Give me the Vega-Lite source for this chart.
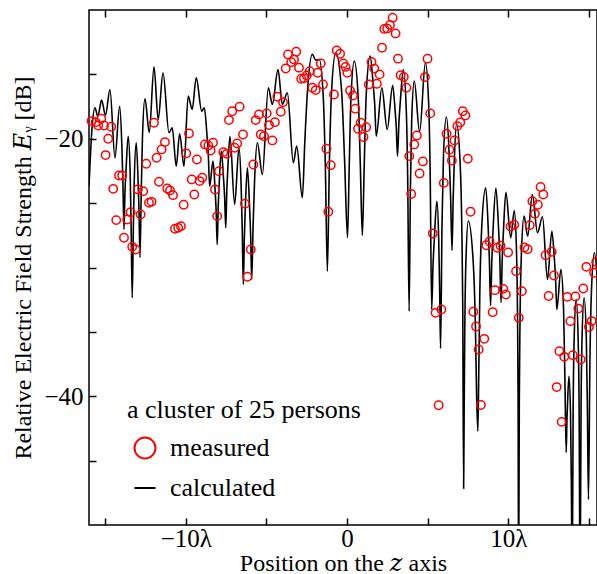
{
  "$schema": "https://vega.github.io/schema/vega-lite/v6.json",
  "width": 508,
  "height": 515,
  "autosize": "none",
  "padding": {"left": 89, "top": 10, "right": 0, "bottom": 49},
  "background": "white",
  "config": {
    "view": {"stroke": "black", "strokeWidth": 1.5},
    "font": "Liberation Serif",
    "axis": {"labelFont": "Liberation Serif", "titleFont": "Liberation Serif, DejaVu Serif", "labelColor": "black", "titleColor": "black", "tickColor": "black", "titleFontWeight": "normal", "grid": false, "domain": false}
  },
  "datasets": {
    "calculated": [
      {"x": -16.0, "y": -23.68}, {"x": -15.82, "y": -19.3}, {"x": -15.63, "y": -17.59}, {"x": -15.45, "y": -18.27}, {"x": -15.22, "y": -16.99}, {"x": -14.98, "y": -18.19}, {"x": -14.7, "y": -16.17}, {"x": -14.39, "y": -21.48}, {"x": -14.1, "y": -17.47},
      {"x": -13.965, "y": -20.47}, {"x": -13.9, "y": -23.22}, {"x": -13.83, "y": -27.05}, {"x": -13.77, "y": -24.15}, {"x": -13.7, "y": -22.34}, {"x": -13.57, "y": -19.8},
      {"x": -13.445, "y": -22.8}, {"x": -13.3825, "y": -27.33}, {"x": -13.32, "y": -32.35}, {"x": -13.2575, "y": -27.53}, {"x": -13.195, "y": -23.31}, {"x": -13.07, "y": -20.31},
      {"x": -12.955, "y": -23.31}, {"x": -12.8975, "y": -25.66}, {"x": -12.84, "y": -29.22}, {"x": -12.7625, "y": -24.29}, {"x": -12.685, "y": -19.89}, {"x": -12.53, "y": -16.89},
      {"x": -12.26, "y": -19.51}, {"x": -11.97, "y": -14.41}, {"x": -11.71, "y": -18.5}, {"x": -11.41, "y": -14.87}, {"x": -11.04, "y": -19.53}, {"x": -10.84, "y": -19.15}, {"x": -10.59, "y": -22.13}, {"x": -10.38, "y": -19.61}, {"x": -10.11, "y": -22.13}, {"x": -9.85, "y": -16.69}, {"x": -9.6, "y": -17.72}, {"x": -9.35, "y": -15.26}, {"x": -9.01, "y": -17.86}, {"x": -8.85, "y": -17.59},
      {"x": -8.685, "y": -19.72}, {"x": -8.6025, "y": -21.24}, {"x": -8.52, "y": -23.68}, {"x": -8.31, "y": -21.74},
      {"x": -8.18, "y": -24.0}, {"x": -8.115, "y": -25.62}, {"x": -8.05, "y": -28.21}, {"x": -7.9875, "y": -25.31}, {"x": -7.925, "y": -23.5}, {"x": -7.8, "y": -20.96},
      {"x": -7.66, "y": -23.05}, {"x": -7.59, "y": -24.54}, {"x": -7.52, "y": -26.92}, {"x": -7.455, "y": -24.07}, {"x": -7.39, "y": -22.29}, {"x": -7.26, "y": -19.8},
      {"x": -6.97, "y": -25.1}, {"x": -6.7, "y": -20.7},
      {"x": -6.565, "y": -23.7}, {"x": -6.4975, "y": -27.07}, {"x": -6.43, "y": -31.32}, {"x": -6.3675, "y": -27.69}, {"x": -6.305, "y": -25.25}, {"x": -6.18, "y": -22.25},
      {"x": -6.045, "y": -25.25}, {"x": -5.9775, "y": -27.46}, {"x": -5.91, "y": -30.93}, {"x": -5.8225, "y": -26.68}, {"x": -5.735, "y": -23.31}, {"x": -5.56, "y": -20.31},
      {"x": -5.25, "y": -22.77}, {"x": -4.88, "y": -16.04}, {"x": -4.63, "y": -17.33}, {"x": -4.28, "y": -14.62}, {"x": -4.01, "y": -17.33}, {"x": -3.7, "y": -16.43}, {"x": -3.33, "y": -21.86}, {"x": -3.12, "y": -20.57},
      {"x": -2.77, "y": -24.58}, {"x": -2.615, "y": -20.13}, {"x": -2.46, "y": -16.45}, {"x": -2.15, "y": -13.45}, {"x": -1.94, "y": -13.89}, {"x": -1.72, "y": -13.84},
      {"x": -1.47, "y": -16.84}, {"x": -1.345, "y": -22.14}, {"x": -1.22, "y": -30.29}, {"x": -1.09, "y": -21.62}, {"x": -0.96, "y": -16.32}, {"x": -0.7, "y": -13.32},
      {"x": -0.335, "y": -16.32}, {"x": -0.1525, "y": -21.62}, {"x": 0.03, "y": -27.69}, {"x": 0.135, "y": -22.2}, {"x": 0.24, "y": -16.97}, {"x": 0.45, "y": -13.97},
      {"x": 0.7, "y": -16.97}, {"x": 0.825, "y": -22.09}, {"x": 0.95, "y": -27.51}, {"x": 1.07, "y": -21.88}, {"x": 1.19, "y": -16.58}, {"x": 1.43, "y": -13.58},
      {"x": 1.62, "y": -15.76}, {"x": 1.715, "y": -17.31}, {"x": 1.81, "y": -19.8}, {"x": 2.16, "y": -16.04}, {"x": 2.49, "y": -19.28}, {"x": 2.83, "y": -15.86},
      {"x": 2.98, "y": -17.78}, {"x": 3.055, "y": -19.15}, {"x": 3.13, "y": -21.35}, {"x": 3.22, "y": -18.67}, {"x": 3.31, "y": -17.0}, {"x": 3.49, "y": -14.65},
      {"x": 3.67, "y": -17.65}, {"x": 3.76, "y": -22.95}, {"x": 3.85, "y": -33.4}, {"x": 3.93, "y": -23.82}, {"x": 4.01, "y": -18.52}, {"x": 4.17, "y": -15.52},
      {"x": 4.5, "y": -19.47}, {"x": 4.86, "y": -14.09},
      {"x": 5.055, "y": -17.09}, {"x": 5.1525, "y": -22.39}, {"x": 5.25, "y": -33.26}, {"x": 5.33, "y": -29.9}, {"x": 5.41, "y": -27.85}, {"x": 5.57, "y": -24.85},
      {"x": 5.685, "y": -27.85}, {"x": 5.7425, "y": -31.71}, {"x": 5.8, "y": -36.29}, {"x": 5.89, "y": -26.61}, {"x": 5.98, "y": -21.31}, {"x": 6.16, "y": -18.31},
      {"x": 6.335, "y": -21.31}, {"x": 6.4225, "y": -24.53}, {"x": 6.51, "y": -28.68}, {"x": 6.58, "y": -24.73}, {"x": 6.65, "y": -21.81}, {"x": 6.79, "y": -18.81},
      {"x": 7.01, "y": -21.81}, {"x": 7.12, "y": -27.11}, {"x": 7.175, "y": -33.0}, {"x": 7.23, "y": -47.17}, {"x": 7.266, "y": -40.6}, {"x": 7.3025, "y": -34.69}, {"x": 7.375, "y": -29.39}, {"x": 7.52, "y": -26.39},
      {"x": 7.815, "y": -29.39}, {"x": 7.9625, "y": -34.69}, {"x": 8.036, "y": -40.0}, {"x": 8.11, "y": -42.72}, {"x": 8.171, "y": -38.0}, {"x": 8.2325, "y": -32.11}, {"x": 8.355, "y": -26.81}, {"x": 8.6, "y": -23.81},
      {"x": 8.75, "y": -26.81}, {"x": 8.825, "y": -29.29}, {"x": 8.9, "y": -32.95}, {"x": 8.9825, "y": -29.3}, {"x": 9.065, "y": -26.82}, {"x": 9.23, "y": -23.82},
      {"x": 9.39, "y": -26.82}, {"x": 9.47, "y": -29.16}, {"x": 9.55, "y": -32.72}, {"x": 9.625, "y": -29.29}, {"x": 9.7, "y": -27.15}, {"x": 9.85, "y": -24.15},
      {"x": 10.15, "y": -27.69}, {"x": 10.37, "y": -25.57},
      {"x": 10.505, "y": -28.57}, {"x": 10.5725, "y": -33.87}, {"x": 10.606, "y": -39.8}, {"x": 10.64, "y": -55}, {"x": 10.6825, "y": -40.2}, {"x": 10.725, "y": -34.31}, {"x": 10.81, "y": -29.01}, {"x": 10.98, "y": -26.01},
      {"x": 11.2, "y": -27.57}, {"x": 11.49, "y": -24.33}, {"x": 11.81, "y": -27.3}, {"x": 12.12, "y": -26.06}, {"x": 12.43, "y": -30.93}, {"x": 12.7, "y": -27.18},
      {"x": 12.855, "y": -29.31}, {"x": 12.93, "y": -30.83}, {"x": 13.01, "y": -33.26}, {"x": 13.26, "y": -30.16},
      {"x": 13.425, "y": -33.16}, {"x": 13.5075, "y": -38.46}, {"x": 13.59, "y": -44.37}, {"x": 13.6325, "y": -42.0}, {"x": 13.675, "y": -40.52}, {"x": 13.76, "y": -38.45},
      {"x": 13.86, "y": -41.45}, {"x": 13.91, "y": -46.75}, {"x": 13.96, "y": -55}, {"x": 14.0225, "y": -40.79}, {"x": 14.085, "y": -35.49}, {"x": 14.21, "y": -32.49},
      {"x": 14.33, "y": -35.49}, {"x": 14.39, "y": -40.79}, {"x": 14.45, "y": -55}, {"x": 14.5125, "y": -40.65}, {"x": 14.575, "y": -35.35}, {"x": 14.7, "y": -32.35},
      {"x": 14.835, "y": -35.35}, {"x": 14.9025, "y": -40.65}, {"x": 14.97, "y": -48.03}, {"x": 15.0625, "y": -37.16}, {"x": 15.155, "y": -31.86}, {"x": 15.34, "y": -28.86}, {"x": 15.54, "y": -31.3}
    ],
    "measured": [
      {"x": -15.84, "y": -18.63, "series": "measured"}, {"x": -15.59, "y": -18.71, "series": "measured"}, {"x": -15.43, "y": -18.97, "series": "measured"}, {"x": -15.24, "y": -18.45, "series": "measured"}, {"x": -15.07, "y": -18.97, "series": "measured"},
      {"x": -14.97, "y": -21.27, "series": "measured"}, {"x": -14.81, "y": -20.0, "series": "measured"}, {"x": -14.62, "y": -19.07, "series": "measured"}, {"x": -14.5, "y": -23.89, "series": "measured"}, {"x": -14.31, "y": -26.32, "series": "measured"},
      {"x": -14.14, "y": -22.85, "series": "measured"}, {"x": -13.94, "y": -22.85, "series": "measured"}, {"x": -13.83, "y": -27.69, "series": "measured"}, {"x": -13.63, "y": -26.27, "series": "measured"}, {"x": -13.42, "y": -25.7, "series": "measured"},
      {"x": -13.32, "y": -28.39, "series": "measured"}, {"x": -13.11, "y": -28.6, "series": "measured"}, {"x": -12.97, "y": -23.94, "series": "measured"}, {"x": -12.8, "y": -25.88, "series": "measured"}, {"x": -12.64, "y": -24.07, "series": "measured"},
      {"x": -12.45, "y": -21.94, "series": "measured"}, {"x": -12.28, "y": -24.97, "series": "measured"}, {"x": -12.12, "y": -24.9, "series": "measured"}, {"x": -11.97, "y": -18.76, "series": "measured"}, {"x": -11.81, "y": -21.48, "series": "measured"},
      {"x": -11.66, "y": -23.34, "series": "measured"}, {"x": -11.5, "y": -20.83, "series": "measured"}, {"x": -11.29, "y": -20.26, "series": "measured"}, {"x": -11.15, "y": -23.86, "series": "measured"}, {"x": -10.98, "y": -24.02, "series": "measured"},
      {"x": -10.79, "y": -24.38, "series": "measured"}, {"x": -10.67, "y": -26.99, "series": "measured"}, {"x": -10.47, "y": -26.92, "series": "measured"}, {"x": -10.3, "y": -26.79, "series": "measured"}, {"x": -10.13, "y": -25.13, "series": "measured"},
      {"x": -9.97, "y": -21.14, "series": "measured"}, {"x": -9.8, "y": -19.59, "series": "measured"}, {"x": -9.63, "y": -23.16, "series": "measured"}, {"x": -9.47, "y": -24.33, "series": "measured"}, {"x": -9.31, "y": -21.61, "series": "measured"},
      {"x": -9.14, "y": -23.29, "series": "measured"}, {"x": -8.98, "y": -23.03, "series": "measured"}, {"x": -8.81, "y": -20.44, "series": "measured"}, {"x": -8.6, "y": -20.52, "series": "measured"}, {"x": -8.46, "y": -20.91, "series": "measured"},
      {"x": -8.31, "y": -20.31, "series": "measured"}, {"x": -8.19, "y": -23.94, "series": "measured"}, {"x": -8.05, "y": -26.01, "series": "measured"}, {"x": -7.94, "y": -22.52, "series": "measured"}, {"x": -7.67, "y": -21.04, "series": "measured"},
      {"x": -7.46, "y": -21.17, "series": "measured"}, {"x": -7.32, "y": -18.55, "series": "measured"}, {"x": -7.12, "y": -17.86, "series": "measured"}, {"x": -6.97, "y": -20.7, "series": "measured"}, {"x": -6.81, "y": -20.37, "series": "measured"},
      {"x": -6.66, "y": -17.51, "series": "measured"}, {"x": -6.45, "y": -19.67, "series": "measured"}, {"x": -6.33, "y": -25.05, "series": "measured"}, {"x": -6.18, "y": -30.72, "series": "measured"}, {"x": -5.97, "y": -28.6, "series": "measured"},
      {"x": -5.81, "y": -22.0, "series": "measured"}, {"x": -5.66, "y": -18.55, "series": "measured"}, {"x": -5.46, "y": -18.11, "series": "measured"}, {"x": -5.35, "y": -19.67, "series": "measured"}, {"x": -5.15, "y": -19.8, "series": "measured"},
      {"x": -4.98, "y": -18.03, "series": "measured"}, {"x": -4.84, "y": -18.94, "series": "measured"}, {"x": -4.63, "y": -20.13, "series": "measured"}, {"x": -4.47, "y": -18.71, "series": "measured"}, {"x": -4.32, "y": -16.74, "series": "measured"},
      {"x": -4.11, "y": -17.9, "series": "measured"}, {"x": -3.97, "y": -17.16, "series": "measured"}, {"x": -3.8, "y": -14.54, "series": "measured"}, {"x": -3.66, "y": -13.45, "series": "measured"}, {"x": -3.46, "y": -14.05, "series": "measured"},
      {"x": -3.29, "y": -13.84, "series": "measured"}, {"x": -3.15, "y": -13.24, "series": "measured"}, {"x": -2.98, "y": -14.48, "series": "measured"}, {"x": -2.84, "y": -15.34, "series": "measured"}, {"x": -2.67, "y": -15.31, "series": "measured"},
      {"x": -2.5, "y": -15.08, "series": "measured"}, {"x": -2.31, "y": -14.75, "series": "measured"}, {"x": -2.15, "y": -16.04, "series": "measured"}, {"x": -1.94, "y": -16.22, "series": "measured"}, {"x": -1.82, "y": -14.87, "series": "measured"},
      {"x": -1.63, "y": -14.15, "series": "measured"}, {"x": -1.49, "y": -15.78, "series": "measured"}, {"x": -1.28, "y": -20.78, "series": "measured"}, {"x": -1.16, "y": -25.67, "series": "measured"}, {"x": -1.01, "y": -22.05, "series": "measured"},
      {"x": -0.81, "y": -16.56, "series": "measured"}, {"x": -0.64, "y": -13.14, "series": "measured"}, {"x": -0.43, "y": -13.4, "series": "measured"}, {"x": -0.23, "y": -14.15, "series": "measured"}, {"x": -0.09, "y": -14.42, "series": "measured"},
      {"x": 0.02, "y": -14.87, "series": "measured"}, {"x": 0.19, "y": -16.25, "series": "measured"}, {"x": 0.37, "y": -16.64, "series": "measured"}, {"x": 0.51, "y": -17.67, "series": "measured"}, {"x": 0.68, "y": -19.22, "series": "measured"},
      {"x": 0.85, "y": -18.76, "series": "measured"}, {"x": 1.02, "y": -19.86, "series": "measured"}, {"x": 1.19, "y": -19.1, "series": "measured"}, {"x": 1.35, "y": -15.78, "series": "measured"}, {"x": 1.52, "y": -14.03, "series": "measured"},
      {"x": 1.69, "y": -14.55, "series": "measured"}, {"x": 1.85, "y": -15.73, "series": "measured"}, {"x": 2.02, "y": -15.0, "series": "measured"}, {"x": 2.17, "y": -12.93, "series": "measured"}, {"x": 2.31, "y": -11.47, "series": "measured"},
      {"x": 2.49, "y": -11.43, "series": "measured"}, {"x": 2.66, "y": -11.16, "series": "measured"}, {"x": 2.83, "y": -10.6, "series": "measured"}, {"x": 3.01, "y": -11.82, "series": "measured"}, {"x": 3.16, "y": -13.78, "series": "measured"},
      {"x": 3.32, "y": -15.06, "series": "measured"}, {"x": 3.52, "y": -15.2, "series": "measured"}, {"x": 3.68, "y": -16.04, "series": "measured"}, {"x": 3.86, "y": -21.35, "series": "measured"}, {"x": 3.98, "y": -24.29, "series": "measured"},
      {"x": 4.17, "y": -20.44, "series": "measured"}, {"x": 4.33, "y": -19.74, "series": "measured"}, {"x": 4.5, "y": -22.7, "series": "measured"}, {"x": 4.7, "y": -21.76, "series": "measured"}, {"x": 4.83, "y": -15.21, "series": "measured"},
      {"x": 4.99, "y": -13.78, "series": "measured"}, {"x": 5.16, "y": -18.03, "series": "measured"}, {"x": 5.32, "y": -27.36, "series": "measured"}, {"x": 5.49, "y": -33.52, "series": "measured"}, {"x": 5.68, "y": -40.7, "series": "measured"},
      {"x": 5.85, "y": -33.26, "series": "measured"}, {"x": 6.0, "y": -23.43, "series": "measured"}, {"x": 6.17, "y": -19.61, "series": "measured"}, {"x": 6.35, "y": -20.85, "series": "measured"}, {"x": 6.5, "y": -21.69, "series": "measured"},
      {"x": 6.66, "y": -20.13, "series": "measured"}, {"x": 6.84, "y": -19.02, "series": "measured"}, {"x": 7.02, "y": -18.73, "series": "measured"}, {"x": 7.18, "y": -17.86, "series": "measured"}, {"x": 7.34, "y": -18.19, "series": "measured"},
      {"x": 7.49, "y": -21.55, "series": "measured"}, {"x": 7.66, "y": -25.67, "series": "measured"}, {"x": 7.83, "y": -33.44, "series": "measured"}, {"x": 8.0, "y": -34.58, "series": "measured"}, {"x": 8.16, "y": -36.37, "series": "measured"},
      {"x": 8.3, "y": -40.68, "series": "measured"}, {"x": 8.51, "y": -35.54, "series": "measured"}, {"x": 8.64, "y": -28.27, "series": "measured"}, {"x": 8.84, "y": -27.98, "series": "measured"}, {"x": 9.03, "y": -33.47, "series": "measured"},
      {"x": 9.17, "y": -31.76, "series": "measured"}, {"x": 9.32, "y": -28.47, "series": "measured"}, {"x": 9.52, "y": -28.31, "series": "measured"}, {"x": 9.69, "y": -31.66, "series": "measured"}, {"x": 9.85, "y": -32.1, "series": "measured"},
      {"x": 9.99, "y": -28.83, "series": "measured"}, {"x": 10.14, "y": -26.81, "series": "measured"}, {"x": 10.37, "y": -26.68, "series": "measured"}, {"x": 10.48, "y": -30.29, "series": "measured"}, {"x": 10.65, "y": -33.91, "series": "measured"},
      {"x": 10.84, "y": -31.84, "series": "measured"}, {"x": 11.0, "y": -28.45, "series": "measured"}, {"x": 11.2, "y": -28.58, "series": "measured"}, {"x": 11.33, "y": -26.71, "series": "measured"}, {"x": 11.49, "y": -24.85, "series": "measured"},
      {"x": 11.65, "y": -25.83, "series": "measured"}, {"x": 11.83, "y": -25.13, "series": "measured"}, {"x": 12.0, "y": -23.75, "series": "measured"}, {"x": 12.17, "y": -24.33, "series": "measured"}, {"x": 12.31, "y": -29.05, "series": "measured"},
      {"x": 12.5, "y": -32.21, "series": "measured"}, {"x": 12.69, "y": -28.78, "series": "measured"}, {"x": 12.83, "y": -30.62, "series": "measured"}, {"x": 13.0, "y": -39.29, "series": "measured"}, {"x": 13.17, "y": -36.5, "series": "measured"},
      {"x": 13.31, "y": -41.99, "series": "measured"}, {"x": 13.47, "y": -36.94, "series": "measured"}, {"x": 13.66, "y": -32.28, "series": "measured"}, {"x": 13.85, "y": -34.17, "series": "measured"}, {"x": 14.0, "y": -36.82, "series": "measured"},
      {"x": 14.16, "y": -32.25, "series": "measured"}, {"x": 14.34, "y": -33.19, "series": "measured"}, {"x": 14.49, "y": -37.15, "series": "measured"}, {"x": 14.65, "y": -31.63, "series": "measured"}, {"x": 14.84, "y": -29.95, "series": "measured"},
      {"x": 15.0, "y": -34.62, "series": "measured"}, {"x": 15.17, "y": -34.16, "series": "measured"}, {"x": 15.32, "y": -30.41, "series": "measured"}, {"x": 15.45, "y": -29.57, "series": "measured"}
    ]
  },
  "resolve": {"axis": {"x": "independent", "y": "independent"}},
  "layer": [
    {
      "data": {"name": "calculated"},
      "mark": {"type": "line", "interpolate": "monotone", "color": "black", "strokeWidth": 1.6, "clip": true},
      "encoding": {
        "x": {"field": "x", "type": "quantitative", "scale": {"domain": [-16, 15.5], "nice": false, "zero": false},
          "axis": {"orient": "bottom", "values": [-15, -10, -5, 0, 5, 10, 15], "labelExpr": "datum.value == -10 ? '\u00a0\u00a0\u221210\u03bb' : datum.value == 0 ? '0' : datum.value == 10 ? '\u00a0\u00a010\u03bb' : ''", "labelOverlap": false, "labelFlush": false, "tickSize": -7, "tickWidth": 1.5, "labelFontSize": 25, "labelPadding": 8, "title": "Position on the \ud835\udc67 axis", "titleFontSize": 24, "titlePadding": 0}},
        "y": {"field": "y", "type": "quantitative", "scale": {"domain": [-50, -10], "nice": false, "zero": false},
          "axis": {"orient": "left", "values": [-45, -40, -35, -30, -25, -20, -15], "labelExpr": "datum.value == -20 ? '\u221220' : datum.value == -40 ? '\u221240' : ''", "labelOverlap": false, "labelFlush": false, "tickSize": -7, "tickWidth": 1.5, "labelFontSize": 25, "labelPadding": 13, "title": "Relative Electric Field Strength \ud835\udc38\u1d67 [dB]", "titleFontSize": 24, "titlePadding": 8}}
      }
    },
    {
      "data": {"name": "measured"},
      "mark": {"type": "point", "filled": false, "size": 70, "strokeWidth": 1.5, "opacity": 1},
      "encoding": {
        "x": {"field": "x", "type": "quantitative", "axis": {"orient": "top", "values": [-15, -10, -5, 0, 5, 10, 15], "labels": false, "tickSize": -7, "tickWidth": 1.5, "title": null}},
        "y": {"field": "y", "type": "quantitative", "axis": null},
        "stroke": {"field": "series", "type": "nominal", "scale": {"domain": ["measured", "calculated"], "range": ["#ff0000", "#000000"]},
          "legend": {"orient": "none", "legendX": 38, "legendY": 387, "title": "a cluster of 25 persons", "titleLimit": 500, "titleFontSize": 26, "titleFontWeight": "normal", "titleFont": "Liberation Serif", "titleColor": "black", "labelFontSize": 26, "labelFont": "Liberation Serif", "labelColor": "black", "symbolSize": 440, "symbolStrokeWidth": 2, "symbolOpacity": 1, "labelOffset": 12, "rowPadding": 12, "titlePadding": 12, "symbolOffset": 5, "padding": 0}},
        "shape": {"field": "series", "type": "nominal", "scale": {"domain": ["measured", "calculated"], "range": ["circle", "stroke"]},
          "legend": {"orient": "none", "legendX": 38, "legendY": 387, "title": "a cluster of 25 persons", "titleLimit": 500, "titleFontSize": 26, "titleFontWeight": "normal", "titleFont": "Liberation Serif", "titleColor": "black", "labelFontSize": 26, "labelFont": "Liberation Serif", "labelColor": "black", "symbolSize": 440, "symbolStrokeWidth": 2, "symbolOpacity": 1, "labelOffset": 12, "rowPadding": 12, "titlePadding": 12, "symbolOffset": 5, "padding": 0}}
      }
    }
  ]
}
